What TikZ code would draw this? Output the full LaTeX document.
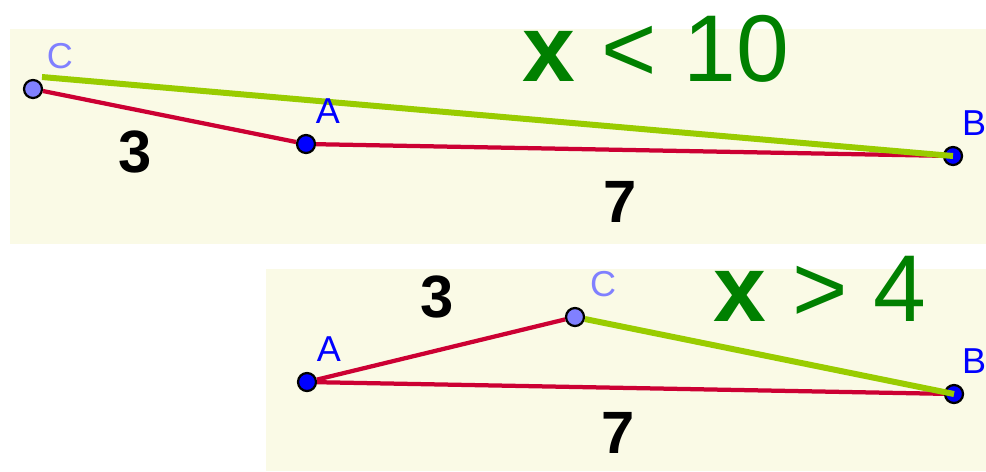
\documentclass[tikz,border=0pt]{standalone}
\usepackage{fontspec}
\setmainfont{Liberation Sans}
\usepackage{xcolor}
\usepackage{tikz}
\definecolor{geopaper}{RGB}{250,250,230}
\definecolor{geored}{RGB}{204,0,51}
\definecolor{geolime}{RGB}{153,204,0}
\definecolor{geogreen}{RGB}{0,128,0}
\definecolor{geoblue}{RGB}{0,0,255}
\definecolor{geolilac}{RGB}{128,128,255}

\begin{document}
\begin{tikzpicture}[x=0.02cm,y=-0.02cm,
  every node/.style={inner sep=0pt,anchor=base},
  pt/.style={circle,draw=black,line width=0.045cm,minimum size=0.36cm,anchor=center},
  ptname/.style={font=\fontsize{20.5}{24}\selectfont},
  side/.style={font=\fontsize{34}{40}\selectfont\bfseries},
  ineq/.style={font=\fontsize{54}{62}\selectfont,text=geogreen},
  seg/.style={geored,line width=0.085cm},
  diff/.style={geolime,line width=0.12cm}]
  \useasboundingbox (0,0) rectangle (986,471);
  \fill[geopaper] (10,29) rectangle (986,244);
  \fill[geopaper] (266,269) rectangle (986,471);
  % top: x < 10
  \node[pt,fill=geolilac] (c1) at (33,89) {};
  \node[pt,fill=geoblue] (a1) at (306,144) {};
  \node[pt,fill=geoblue] (b1) at (953,156) {};
  \coordinate (c1g) at (42,77);
  \draw[seg] (c1) -- (a1);
  \draw[seg] (a1) -- (b1);
  \draw[diff] (c1g) -- (b1.center);
  \node[ptname,text=geolilac] (lc1) at (60,68) {C};
  \node[ptname,text=geoblue] (la1) at (328,123) {A};
  \node[ptname,text=geoblue] (lb1) at (974,135) {B};
  \node[side] (s31) at (135,172) {3};
  \node[side] (s71) at (620,222) {7};
  \node[ineq] (q1) at (656,81) {\textbf{x} < 10};
  % bottom: x > 4
  \node[pt,fill=geoblue] (a2) at (307,382) {};
  \node[pt,fill=geolilac] (c2) at (575,317) {};
  \node[pt,fill=geoblue] (b2) at (954,394) {};
  \draw[seg] (a2) -- (c2);
  \draw[seg] (a2) -- (b2);
  \draw[diff] (c2) -- (b2.center);
  \node[ptname,text=geoblue] (la2) at (329,361) {A};
  \node[ptname,text=geolilac] (lc2) at (603,296) {C};
  \node[ptname,text=geoblue] (lb2) at (974,373) {B};
  \node[side] (s32) at (437,317) {3};
  \node[side] (s72) at (618,453) {7};
  \node[ineq] (q2) at (820,321) {\textbf{x} > 4};
\end{tikzpicture}
\end{document}
